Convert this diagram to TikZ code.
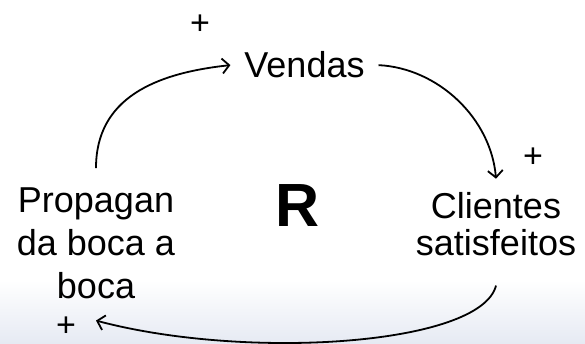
\documentclass[tikz,border=0pt]{standalone}
\usepackage{fontspec}
\setmainfont{Liberation Sans}
\usepackage{tikz}
\usepackage{xcolor}
\usetikzlibrary{arrows.meta, positioning}
\definecolor{bandgray}{RGB}{230,234,243}

\begin{document}
\begin{tikzpicture}[x=1pt, y=1pt, >={Straight Barb[length=7pt,width=15pt]},
    varname/.style={inner sep=0pt, align=center},
    polarity/.style={inner sep=0pt, font=\fontsize{34}{34}\selectfont},
    link/.style={->, line width=1.8pt}]
    \useasboundingbox (0,0) rectangle (585,343);
    \shade[top color=white, bottom color=bandgray] (0,0) rectangle (585,63);

    \node[varname, anchor=base, outer sep=14pt, font=\fontsize{36}{43}\selectfont] (vendas) at (304.5,265) {Vendas};
    \node[varname, anchor=base, font=\fontsize{36}{37}\selectfont] (clientes) at (496,88) {Clientes\\satisfeitos};
    \node[varname, anchor=base, font=\fontsize{36}{43}\selectfont] (propag) at (96,45) {Propagan\\da boca a\\boca};
    \node[inner sep=0pt, font=\bfseries\fontsize{61}{61}\selectfont] (loop) at (298,137) {R};

    \node[polarity] (pv) at (200,318) {+};
    \node[polarity] (pc) at (533,185) {+};
    \node[polarity] (pp) at (66,16) {+};

    \draw[link] ([yshift=19pt]propag.north) .. controls +(0,70) and +(-75,-8) .. (vendas.west);
    \draw[link] (vendas.east) .. controls +(60,-3) and +(-5,60) .. ([yshift=13pt]clientes.north);
    \draw[link] ([yshift=-30pt]clientes.south) .. controls +(-15,-60) and +(150,-40) .. ([yshift=-22pt]propag.south);
\end{tikzpicture}
\end{document}
